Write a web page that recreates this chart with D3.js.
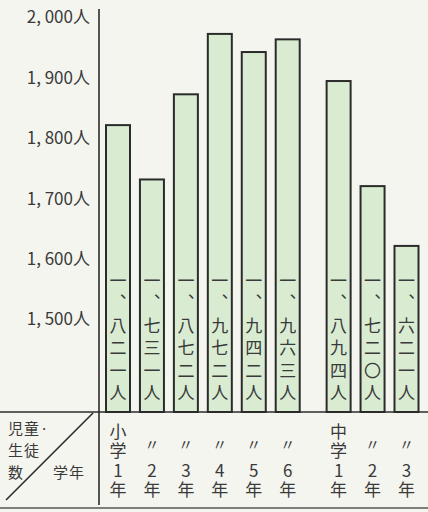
<!DOCTYPE html>
<html><head><meta charset="utf-8">
<script src="https://cdn.jsdelivr.net/npm/d3@7"></script>
<style>
html,body{margin:0;padding:0;background:#f5f5f0;}
svg{display:block;}
text{font-family:"Noto Sans CJK JP","Noto Sans",sans-serif;fill:#3a3a3a;}
.vt{writing-mode:vertical-rl;text-orientation:upright;}
</style></head>
<body>
<script>
// ---- data ----
const grades = ["小学1年","小学2年","小学3年","小学4年","小学5年","小学6年","中学1年","中学2年","中学3年"];
const schools = ["小学","小学","小学","小学","小学","小学","中学","中学","中学"];
const gradeNums = ["1","2","3","4","5","6","1","2","3"];
const students = [1821, 1731, 1872, 1972, 1942, 1963, 1894, 1720, 1621];
const valueLabels = ["一、八二一人","一、七三一人","一、八七二人","一、九七二人","一、九四二人","一、九六三人","一、八九四人","一、七二〇人","一、六二一人"];
const yTicks = [1500, 1600, 1700, 1800, 1900, 2000];

const W = 428, H = 512;
const svg = d3.select("body").append("svg").attr("width", W).attr("height", H);

const baseY = 412, axisX = 99;
const y = d3.scaleLinear().domain([1500, 2000]).range([319, 17]);
// position index with a half-step gap between 小学 and 中学
const pos = grades.map((g, i) => i + (schools[i] === "中学" ? 0.5 : 0));
const x = d3.scaleLinear().domain([0, 8.5]).range([118, 406.5]);
const barW = 24;

// axis
const axis = d3.axisLeft(y).tickValues(yTicks).tickSize(0).tickPadding(9)
  .tickFormat(d => d3.format(",")(d).replace(",", ", ") + "人");
const gA = svg.append("g").attr("transform", `translate(${axisX},0)`).call(axis);
gA.select(".domain").remove();
gA.selectAll("text").style("font-size", "17px").style("font-family", '"Noto Sans CJK JP",sans-serif')
  .attr("fill", "#3a3a3a").attr("dy", "0.35em");

// bars
svg.append("g").selectAll("rect").data(students).join("rect")
  .attr("x", (d, i) => x(pos[i]) - barW / 2)
  .attr("y", d => y(d))
  .attr("width", barW)
  .attr("height", d => baseY - y(d))
  .attr("fill", "#d9ecd2")
  .attr("stroke", "#2b2b2b")
  .attr("stroke-width", 2);

// vertical value labels inside bars
svg.append("g").selectAll("text").data(valueLabels).join("text")
  .attr("class", "vt")
  .attr("x", (d, i) => x(pos[i]))
  .attr("y", 272)
  .style("font-size", "17px")
  .style("letter-spacing", "5.5px")
  .text(d => d);

// axis line (runs through table)
svg.append("line").attr("x1", axisX).attr("x2", axisX).attr("y1", 9).attr("y2", 505)
  .attr("stroke", "#2b2b2b").attr("stroke-width", 1.6);

// table lines
svg.append("line").attr("x1", 0).attr("x2", W).attr("y1", baseY).attr("y2", baseY)
  .attr("stroke", "#2b2b2b").attr("stroke-width", 1.6);
svg.append("line").attr("x1", 0).attr("x2", W).attr("y1", 508).attr("y2", 508)
  .attr("stroke", "#555").attr("stroke-width", 1.4);
svg.append("line").attr("x1", 6).attr("x2", 93).attr("y1", 500).attr("y2", 413)
  .attr("stroke", "#2b2b2b").attr("stroke-width", 1.6);

// row header
[["児童·", 8, 434], ["生徒", 8, 456], ["数", 8, 478], ["学年", 53, 478]].forEach(h =>
  svg.append("text").attr("x", h[1]).attr("y", h[2]).style("font-size", "15px").style("letter-spacing", "1px").text(h[0]));

// column labels
grades.forEach((g, i) => {
  const cx = x(pos[i]);
  const first = i === 0 || schools[i] !== schools[i - 1];
  if (first) {
    svg.append("text").attr("class", "vt").attr("x", cx).attr("y", 423)
      .style("font-size", "17px").style("letter-spacing", "2.5px")
      .text(schools[i] + gradeNums[i] + "年");
  } else {
    svg.append("text").attr("x", cx).attr("y", 443)
      .attr("text-anchor", "middle").attr("dominant-baseline", "central").style("font-size", "15px").text("〃");
    svg.append("text").attr("class", "vt").attr("x", cx).attr("y", 423 + 2 * 19.5)
      .style("font-size", "17px").style("letter-spacing", "2.5px")
      .text(gradeNums[i] + "年");
  }
});
</script>
</body></html>
